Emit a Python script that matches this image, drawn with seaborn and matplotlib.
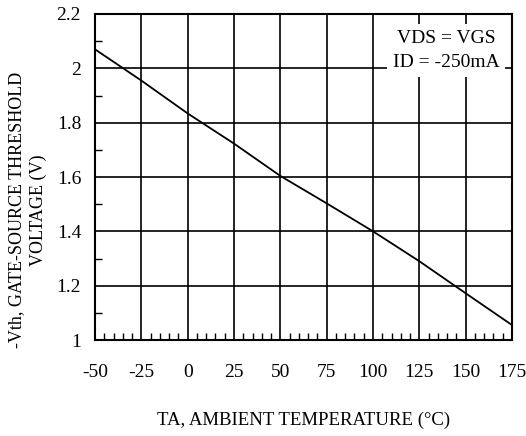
import matplotlib
matplotlib.use("Agg")
import matplotlib.pyplot as plt
import seaborn as sns
import pandas as pd
from matplotlib.ticker import MultipleLocator

temps = [-50, -25, 0, 25, 50, 75, 100, 125, 150, 175]
vth = [2.07, 1.955, 1.834, 1.723, 1.604, 1.503, 1.40, 1.29, 1.172, 1.055]
x_ticks = [-50, -25, 0, 25, 50, 75, 100, 125, 150, 175]
x_ticklabels = ["-50", "-25", "0", "25", "50", "75", "100", "125", "150", "175"]
y_ticks = [1.0, 1.2, 1.4, 1.6, 1.8, 2.0, 2.2]
y_ticklabels = ["1", "1.2", "1.4", "1.6", "1.8", "2", "2.2"]

sns.set_theme(style="white")
plt.rcParams["font.family"] = ["Liberation Serif", "DejaVu Serif"]

df = pd.DataFrame({"T": temps, "V": vth})

fig = plt.figure(figsize=(5.26, 4.36), dpi=100)
ax = fig.add_axes([95/526, 1-340/436, 417/526, 326/436])

sns.lineplot(data=df, x="T", y="V", ax=ax, color="black", linewidth=1.3, zorder=3)

ax.set_xlim(-50, 175)
ax.set_ylim(1.0, 2.2)
ax.set_xticks(x_ticks)
ax.set_xticklabels(x_ticklabels)
ax.set_yticks(y_ticks)
ax.set_yticklabels(y_ticklabels)
ax.xaxis.set_minor_locator(MultipleLocator(5))
ax.yaxis.set_minor_locator(MultipleLocator(0.1))
ax.grid(True, which="major", color="black", linewidth=1.2)
ax.tick_params(axis="both", which="major", length=0, labelsize=14, colors="black")
ax.tick_params(axis="x", which="major", pad=17)
ax.tick_params(axis="y", which="major", pad=10)
ax.tick_params(axis="x", which="minor", direction="in", length=5, width=1, bottom=True, top=False, color="black")
ax.tick_params(axis="y", which="minor", direction="in", length=5, width=1, left=True, right=False, color="black")
for s in ax.spines.values():
    s.set_color("black")
    s.set_linewidth(1.5)

ax.set_xlabel("TA, AMBIENT TEMPERATURE (°C)", fontsize=13.5, color="black")
ax.xaxis.set_label_coords(0.5, -0.245)
ax.xaxis.label.set_va("center")
ax.set_ylabel("-Vth, GATE-SOURCE THRESHOLD\nVOLTAGE (V)", fontsize=13, color="black",
              linespacing=1.3)
ax.yaxis.label.set_va("center")
ax.yaxis.set_label_coords(-0.162, 0.399)

ax.text(0.842, 0.888, "VDS = VGS\nID = -250mA", transform=ax.transAxes,
        ha="center", va="center", fontsize=14, color="black", linespacing=1.55, zorder=4,
        bbox=dict(facecolor="white", edgecolor="none", pad=4))

fig.savefig("out.png", dpi=100)
